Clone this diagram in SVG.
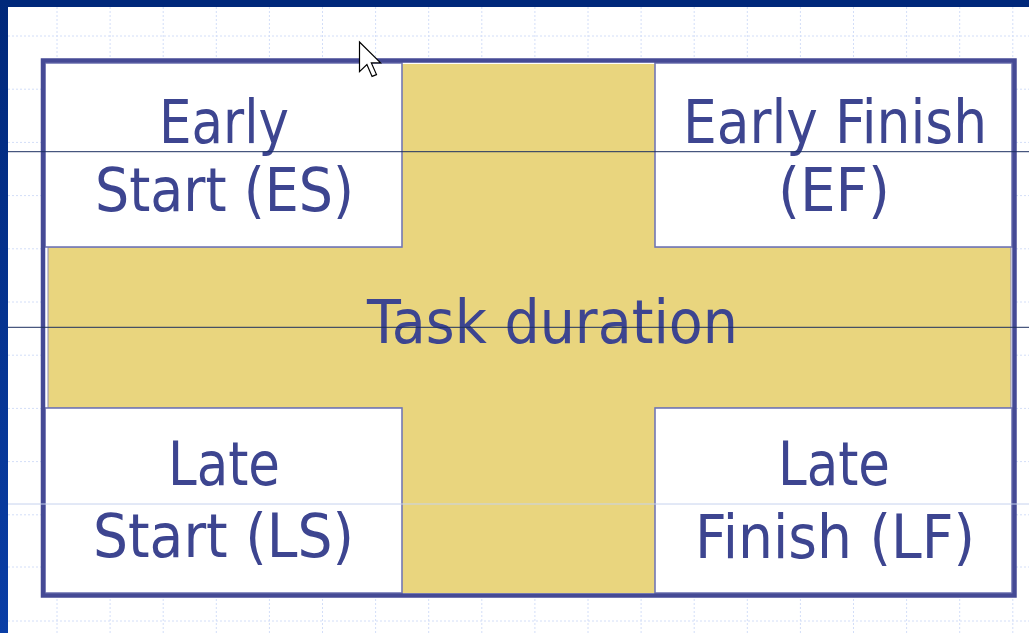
<svg xmlns="http://www.w3.org/2000/svg" width="1029" height="633" viewBox="0 0 1029 633">
  <defs>
    <linearGradient id="frameL" x1="0" y1="0" x2="0" y2="1">
      <stop offset="0" stop-color="#00287a"/>
      <stop offset="1" stop-color="#0a3ea6"/>
    </linearGradient>
    <style>
      .grid { stroke: #d3def8; stroke-width: 1; stroke-dasharray: 2 2; fill: none; }
      .guide { stroke: #1c2f60; stroke-width: 1; }
      .guide-light { stroke: #c6d2ee; stroke-width: 1; }
      .outer { fill: none; stroke: #454a95; stroke-width: 4.5; }
      .cell { fill: #ffffff; stroke: #7277b4; stroke-width: 1.6; }
      .bar { fill: #e9d57e; }
      .label { font-family: "DejaVu Sans", Verdana, sans-serif; font-size: 60px; fill: #3d4590; text-anchor: middle; }
    </style>
  </defs>

  <!-- page background -->
  <rect x="0" y="0" width="1029" height="633" fill="#ffffff"/>
  <rect x="0" y="0" width="1029" height="7" fill="#00287a"/>
  <rect x="0" y="0" width="8" height="633" fill="url(#frameL)"/>

  <!-- dotted grid -->
  <g id="grid" class="grid">
    <line x1="8" y1="36" x2="1029" y2="36"/>
    <line x1="8" y1="89.2" x2="1029" y2="89.2"/>
    <line x1="8" y1="142.4" x2="1029" y2="142.4"/>
    <line x1="8" y1="195.6" x2="1029" y2="195.6"/>
    <line x1="8" y1="248.8" x2="1029" y2="248.8"/>
    <line x1="8" y1="302" x2="1029" y2="302"/>
    <line x1="8" y1="355.2" x2="1029" y2="355.2"/>
    <line x1="8" y1="408.4" x2="1029" y2="408.4"/>
    <line x1="8" y1="461.6" x2="1029" y2="461.6"/>
    <line x1="8" y1="514.8" x2="1029" y2="514.8"/>
    <line x1="8" y1="567" x2="1029" y2="567"/>
    <line x1="8" y1="621" x2="1029" y2="621"/>
    <line x1="57" y1="7" x2="57" y2="633"/>
    <line x1="110.1" y1="7" x2="110.1" y2="633"/>
    <line x1="163.2" y1="7" x2="163.2" y2="633"/>
    <line x1="216.3" y1="7" x2="216.3" y2="633"/>
    <line x1="269.4" y1="7" x2="269.4" y2="633"/>
    <line x1="322.5" y1="7" x2="322.5" y2="633"/>
    <line x1="375.6" y1="7" x2="375.6" y2="633"/>
    <line x1="428.7" y1="7" x2="428.7" y2="633"/>
    <line x1="481.8" y1="7" x2="481.8" y2="633"/>
    <line x1="534.9" y1="7" x2="534.9" y2="633"/>
    <line x1="588" y1="7" x2="588" y2="633"/>
    <line x1="641.1" y1="7" x2="641.1" y2="633"/>
    <line x1="694.2" y1="7" x2="694.2" y2="633"/>
    <line x1="747.3" y1="7" x2="747.3" y2="633"/>
    <line x1="800.4" y1="7" x2="800.4" y2="633"/>
    <line x1="853.5" y1="7" x2="853.5" y2="633"/>
    <line x1="906.6" y1="7" x2="906.6" y2="633"/>
    <line x1="959.7" y1="7" x2="959.7" y2="633"/>
    <line x1="1012.8" y1="7" x2="1012.8" y2="633"/>
  </g>

  <!-- chart body -->
  <rect x="43" y="60.5" width="971.5" height="535" fill="#ffffff"/>

  <g id="task-duration">
    <rect class="bar" x="48" y="247" width="963" height="161" stroke="#8d8cb4" stroke-width="1"/>
    <rect class="bar" x="402" y="64" width="253" height="529"/>
    <text class="label" x="552.5" y="343" textLength="371" lengthAdjust="spacingAndGlyphs">Task duration</text>
  </g>

  <g id="early-start">
    <rect class="cell" x="45" y="63" width="357" height="184"/>
    <text class="label" x="224" y="143" textLength="130" lengthAdjust="spacingAndGlyphs">Early</text>
    <text class="label" x="224.5" y="211" textLength="259" lengthAdjust="spacingAndGlyphs">Start (ES)</text>
  </g>

  <g id="early-finish">
    <rect class="cell" x="655" y="63" width="357" height="184"/>
    <text class="label" x="835" y="143" textLength="304" lengthAdjust="spacingAndGlyphs">Early Finish</text>
    <text class="label" x="834" y="211" textLength="112" lengthAdjust="spacingAndGlyphs">(EF)</text>
  </g>

  <g id="late-start">
    <rect class="cell" x="45" y="408" width="357" height="185"/>
    <text class="label" x="224" y="485" textLength="112" lengthAdjust="spacingAndGlyphs">Late</text>
    <text class="label" x="223.5" y="557" textLength="261" lengthAdjust="spacingAndGlyphs">Start (LS)</text>
  </g>

  <g id="late-finish">
    <rect class="cell" x="655" y="408" width="357" height="185"/>
    <text class="label" x="834" y="485" textLength="112" lengthAdjust="spacingAndGlyphs">Late</text>
    <text class="label" x="835" y="558" textLength="280" lengthAdjust="spacingAndGlyphs">Finish (LF)</text>
  </g>

  <rect class="outer" x="43" y="60.5" width="971.5" height="535"/>

  <!-- ruled lines across the page -->
  <g id="rules">
    <line class="guide" x1="8" y1="151.7" x2="1029" y2="151.7"/>
    <line class="guide" x1="8" y1="327.3" x2="1029" y2="327.3"/>
    <line class="guide-light" x1="8" y1="504" x2="1029" y2="504"/>
  </g>

  <!-- mouse pointer -->
  <path d="M0,0 L0,16 L4,12.2 L6.8,18.6 L9.2,17.6 L6.4,11.3 L11.4,11.3 Z" transform="translate(359.5,42) scale(1.85)" fill="#ffffff" stroke="#000000" stroke-width="0.65" stroke-linejoin="miter"/>
</svg>
